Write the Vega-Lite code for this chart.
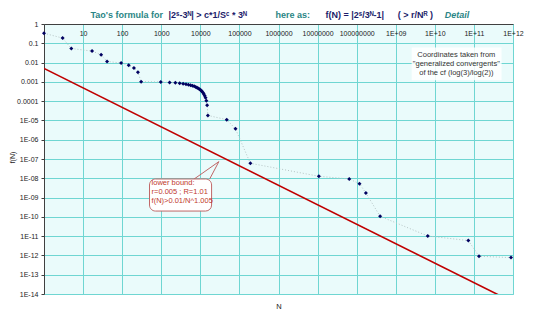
{
  "$schema": "https://vega.github.io/schema/vega-lite/v6.json",
  "width": 469,
  "height": 270,
  "autosize": {"type": "none"},
  "padding": {"left": 44, "top": 24, "right": 27, "bottom": 28},
  "background": "#ffffff",
  "config": {
    "font": "Liberation Sans",
    "view": {"fill": "#eafbfb", "stroke": "#9fd6d6", "strokeWidth": 1}
  },
  "datasets": {
    "pts": [
      {"N": 1, "f": 0.3333},
      {"N": 3, "f": 0.1852},
      {"N": 5, "f": 0.0535},
      {"N": 17, "f": 0.0393},
      {"N": 29, "f": 0.0253},
      {"N": 41, "f": 0.01153},
      {"N": 94, "f": 0.00942},
      {"N": 147, "f": 0.00731},
      {"N": 200, "f": 0.00521},
      {"N": 253, "f": 0.00312},
      {"N": 306, "f": 0.00102},
      {"N": 971, "f": 0.000979},
      {"N": 1636, "f": 0.000935},
      {"N": 2301, "f": 0.000891},
      {"N": 2966, "f": 0.000848},
      {"N": 3631, "f": 0.000804},
      {"N": 4296, "f": 0.000760},
      {"N": 4961, "f": 0.000717},
      {"N": 5626, "f": 0.000673},
      {"N": 6291, "f": 0.000629},
      {"N": 6956, "f": 0.000586},
      {"N": 7621, "f": 0.000542},
      {"N": 8286, "f": 0.000498},
      {"N": 8951, "f": 0.000455},
      {"N": 9616, "f": 0.000411},
      {"N": 10281, "f": 0.000367},
      {"N": 10946, "f": 0.000324},
      {"N": 11611, "f": 0.000280},
      {"N": 12276, "f": 0.000237},
      {"N": 12941, "f": 0.000193},
      {"N": 13606, "f": 0.000149},
      {"N": 14271, "f": 0.000106},
      {"N": 14936, "f": 0.0000618},
      {"N": 15601, "f": 0.0000182},
      {"N": 47468, "f": 0.0000109},
      {"N": 79335, "f": 0.00000366},
      {"N": 190537, "f": 0.00000006},
      {"N": 10781274, "f": 1.27e-8},
      {"N": 64497107, "f": 9.2e-9},
      {"N": 118212940, "f": 5.25e-9},
      {"N": 171928773, "f": 1.74e-9},
      {"N": 397573379, "f": 1.07e-10},
      {"N": 6586818670, "f": 1.02e-11},
      {"N": 72000000000, "f": 5.9e-12},
      {"N": 135000000000, "f": 9.1e-13},
      {"N": 890000000000, "f": 7.7e-13}
    ],
    "bound": [
      {"N": 1, "f": 0.005},
      {"N": 1000000000000, "f": 3.8e-15}
    ],
    "tail": [
      {"i": 1, "N": 5860, "f": 7.2e-9},
      {"i": 2, "N": 29800, "f": 7.3e-8},
      {"i": 3, "N": 17200, "f": 8.9e-9}
    ],
    "box": [
      {"N": 501, "N2": 19400, "f": 9.2e-9, "f2": 2.0e-10}
    ],
    "boxText": [
      {"N": 565, "f": 5.4e-9, "t": ["lower bound:", "r=0.005 ; R=1.01", "f(N)>0.01/N^1.005"]}
    ],
    "noteBox": [
      {"N": 2550000000, "N2": 510000000000, "f": 0.06, "f2": 0.0012}
    ],
    "note": [
      {"N": 35500000000, "f": 0.0247, "t": ["Coordinates taken from", "\"generalized convergents\"", "of the cf (log(3)/log(2))"]}
    ],
    "titleTeal": [
      {"N": 15.5, "f": 2.93, "t": "Tao's formula for"},
      {"N": 840000, "f": 2.93, "t": "here as:"}
    ],
    "titleNavy": [
      {"N": 1535, "f": 2.93, "t": "|2ˢ-3ᴺ| > c*1/Sᶜ * 3ᴺ"},
      {"N": 16000000, "f": 2.93, "t": "f(N) = |2ˢ/3ᴺ-1|"},
      {"N": 1120000000, "f": 2.93, "t": "( > r/Nᴿ )"}
    ],
    "titleDetail": [
      {"N": 18000000000, "f": 2.93, "t": "Detail"}
    ]
  },
  "encoding": {
    "x": {
      "field": "N",
      "type": "quantitative",
      "scale": {"type": "log", "domain": [1, 1000000000000], "nice": false},
      "axis": {
        "orient": "top",
        "title": "N",
        "titleY": 282,
        "titleBaseline": "middle",
        "titleFont": "Liberation Sans",
        "titleFontSize": 7.5,
        "titleFontWeight": "normal",
        "titleColor": "#222222",
        "values": [10, 100, 1000, 10000, 100000, 1000000, 10000000, 100000000, 1000000000, 10000000000, 100000000000, 1000000000000],
        "labelExpr": "datum.value < 1e9 ? format(datum.value, 'd') : '1E+' + (round(log(datum.value)/LN10) < 10 ? '0' : '') + round(log(datum.value)/LN10)",
        "labelFontSize": 7,
        "labelColor": "#222222",
        "labelBaseline": "middle",
        "labelPadding": -9,
        "labelFlush": false,
        "labelOverlap": false,
        "ticks": false,
        "domainColor": "#404040",
        "grid": true,
        "gridColor": "#6fd6d2",
        "gridWidth": 1
      }
    },
    "y": {
      "field": "f",
      "type": "quantitative",
      "scale": {"type": "log", "domain": [1e-14, 1], "nice": false},
      "axis": {
        "title": "f(N)",
        "titleX": -32,
        "titleY": 133,
        "titleAngle": -90,
        "titleAlign": "center",
        "titleBaseline": "middle",
        "titleFontSize": 7,
        "titleFontWeight": "normal",
        "titleColor": "#222222",
        "values": [1, 0.1, 0.01, 0.001, 0.0001, 1e-5, 1e-6, 1e-7, 1e-8, 1e-9, 1e-10, 1e-11, 1e-12, 1e-13, 1e-14],
        "labelExpr": "round(-log(datum.value)/LN10) == 0 ? '1' : round(-log(datum.value)/LN10) == 1 ? '0.1' : round(-log(datum.value)/LN10) == 2 ? '0.01' : round(-log(datum.value)/LN10) == 3 ? '0.001' : round(-log(datum.value)/LN10) == 4 ? '0.0001' : '1E-' + (round(-log(datum.value)/LN10) < 10 ? '0' : '') + round(-log(datum.value)/LN10)",
        "labelFontSize": 7,
        "labelColor": "#222222",
        "labelPadding": 3,
        "labelFlush": false,
        "labelOverlap": false,
        "tickSize": 3,
        "tickColor": "#404040",
        "domainColor": "#404040",
        "grid": true,
        "gridColor": "#6fd6d2",
        "gridWidth": 1
      }
    }
  },
  "layer": [
    {
      "data": {"name": "noteBox"},
      "mark": {"type": "rect", "fill": "#ffffff", "opacity": 0.85},
      "encoding": {"x2": {"field": "N2"}, "y2": {"field": "f2"}}
    },
    {
      "data": {"name": "note"},
      "mark": {"type": "text", "align": "center", "baseline": "middle", "fontSize": 7.5, "lineHeight": 9.2, "color": "#333333"},
      "encoding": {"text": {"field": "t"}}
    },
    {
      "data": {"name": "pts"},
      "mark": {"type": "line", "strokeDash": [1, 2], "strokeWidth": 1, "color": "#b5c4c4"},
      "encoding": {}
    },
    {
      "data": {"name": "bound"},
      "mark": {"type": "line", "clip": true, "color": "#c00000", "strokeWidth": 1.6},
      "encoding": {}
    },
    {
      "data": {"name": "pts"},
      "mark": {"type": "point", "shape": "diamond", "filled": true, "size": 16, "opacity": 1, "color": "#000060"},
      "encoding": {}
    },
    {
      "data": {"name": "tail"},
      "mark": {"type": "line", "color": "#c06666", "strokeWidth": 1},
      "encoding": {"order": {"field": "i"}}
    },
    {
      "data": {"name": "box"},
      "mark": {"type": "rect", "fill": "#ffffff", "stroke": "#c06666", "strokeWidth": 1, "cornerRadius": 6},
      "encoding": {"x2": {"field": "N2"}, "y2": {"field": "f2"}}
    },
    {
      "data": {"name": "boxText"},
      "mark": {"type": "text", "align": "left", "baseline": "middle", "fontSize": 7.5, "lineHeight": 9, "color": "#c0392b"},
      "encoding": {"text": {"field": "t"}}
    },
    {
      "data": {"name": "titleTeal"},
      "mark": {"type": "text", "align": "left", "baseline": "middle", "fontSize": 9, "fontWeight": "bold", "color": "#2a8585"},
      "encoding": {"text": {"field": "t"}}
    },
    {
      "data": {"name": "titleNavy"},
      "mark": {"type": "text", "align": "left", "baseline": "middle", "fontSize": 9, "fontWeight": "bold", "color": "#1c1c6a"},
      "encoding": {"text": {"field": "t"}}
    },
    {
      "data": {"name": "titleDetail"},
      "mark": {"type": "text", "align": "left", "baseline": "middle", "fontSize": 9, "fontWeight": "bold", "fontStyle": "italic", "color": "#2a8585"},
      "encoding": {"text": {"field": "t"}}
    }
  ]
}
